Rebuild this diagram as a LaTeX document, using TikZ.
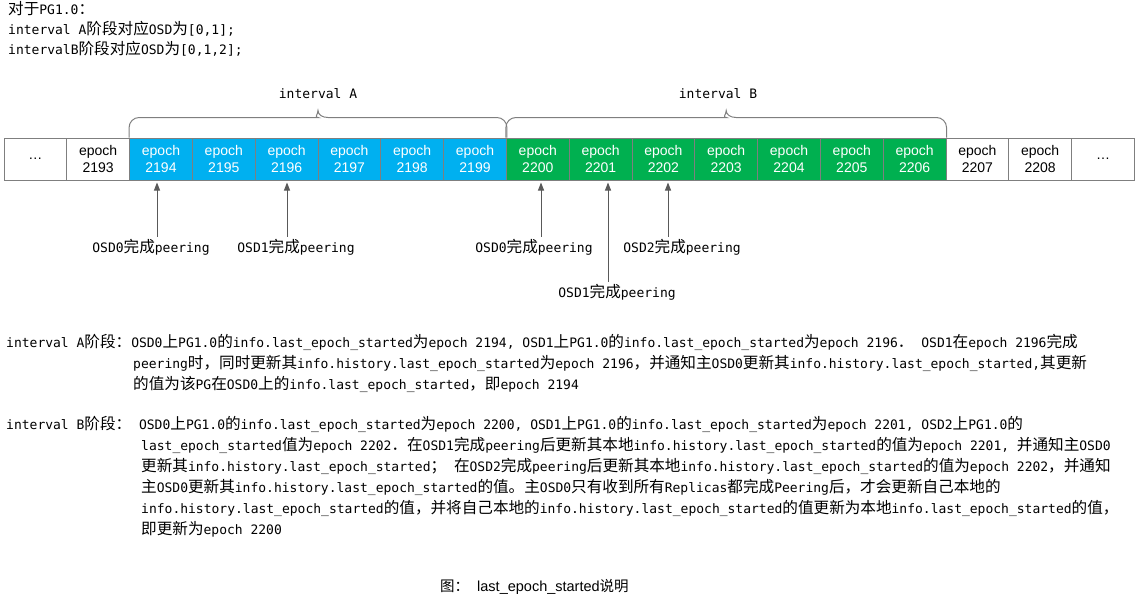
\documentclass[tikz,border=0pt]{standalone}
\usepackage{fontspec}
\setmainfont{Liberation Sans}
\setmonofont{DejaVu Sans Mono}
\newfontfamily\zhfont[Scale=1.2]{Noto Sans CJK SC}
\newfontfamily\zhcapfont{Noto Sans CJK SC}
\newcommand\zh[1]{{\zhfont #1}}
\usetikzlibrary{arrows.meta,calc}
\definecolor{ivAblue}{HTML}{00B0F0}
\definecolor{ivBgreen}{HTML}{00B050}
\definecolor{rulegray}{HTML}{7F7F7F}
\definecolor{ptrgray}{HTML}{595959}
\tikzset{
  cell/.style={draw=rulegray,line width=1pt,minimum width=62.8pt,minimum height=42pt,
    inner sep=0pt,align=center,font=\fontsize{14}{17}\selectfont},
  ivA/.style={fill=ivAblue,text=white},
  ivB/.style={fill=ivBgreen,text=white},
  bracket/.style={draw=rulegray,line width=1pt},
  mono/.style={inner sep=0pt,anchor=base west,font=\ttfamily\fontsize{13}{21}\selectfont},
  osd/.style={mono,anchor=base,inner sep=2pt},
  ptr/.style={ptrgray,line width=1pt,-{Triangle[width=6pt,length=8pt]},shorten >=2pt}
}
\newcommand\intervalbrace[2]{%
  \draw[bracket] (#1) [rounded corners=10pt] -- ++(0,-20)
    -- ($(#1)!.5!(#2)+(-10,-20)$) [sharp corners]
    .. controls +(6,0) and +(0,4) .. ($(#1)!.5!(#2)+(0,-27)$)
    .. controls +(0,4) and +(-6,0) .. ($(#1)!.5!(#2)+(10,-20)$)
    [rounded corners=10pt] -- ($(#2)+(0,-20)$) -- (#2);}

\begin{document}
\begin{tikzpicture}[x=1pt,y=-1pt]
\useasboundingbox (0,0) rectangle (1139,606);

% what the PG had
\node[mono] (h1) at (8,14) {\zh{对于}PG1.0\zh{：}};
\node[mono] (h2) at (8,34) {interval A\zh{阶段对应}OSD\zh{为}[0,1];};
\node[mono] (h3) at (8,54) {intervalB\zh{阶段对应}OSD\zh{为}[0,1,2];};

% epochs
\node[cell] (d0) at (35.4,159) {\ldots};
\foreach \e in {2193,2207,2208}
  \node[cell] (e\e) at ({35.4+62.8*(\e-2192)},159) {epoch\\\e};
\foreach \e in {2194,...,2199}
  \node[cell,ivA] (e\e) at ({35.4+62.8*(\e-2192)},159) {epoch\\\e};
\foreach \e in {2200,...,2206}
  \node[cell,ivB] (e\e) at ({35.4+62.8*(\e-2192)},159) {epoch\\\e};
\node[cell] (d1) at (1103,159) {\ldots};

% intervals
\intervalbrace{e2194.north west}{e2199.north east}
\intervalbrace{e2200.north west}{e2206.north east}
\node[mono,anchor=base] (intA) at (318,98) {interval A};
\node[mono,anchor=base] (intB) at (718,98) {interval B};

% peering
\node[osd] (o0A) at (151,252) {OSD0\zh{完成}peering};
\node[osd] (o1A) at (296,252) {OSD1\zh{完成}peering};
\node[osd] (o0B) at (534,252) {OSD0\zh{完成}peering};
\node[osd] (o2B) at (682,252) {OSD2\zh{完成}peering};
\node[osd] (o1B) at (617,297) {OSD1\zh{完成}peering};
\coordinate (p0A) at ($(o0A.north)+(6,0)$);
\coordinate (p1A) at ($(o1A.north)+(-9,0)$);
\coordinate (p0B) at ($(o0B.north)+(7,0)$);
\coordinate (p2B) at ($(o2B.north)+(-14,0)$);
\coordinate (p1B) at ($(o1B.north)+(-9,0)$);
\draw[ptr] (p0A) -- (p0A |- e2194.south);
\draw[ptr] (p1A) -- (p1A |- e2196.south);
\draw[ptr] (p0B) -- (p0B |- e2200.south);
\draw[ptr] (p1B) -- (p1B |- e2201.south);
\draw[ptr] (p2B) -- (p2B |- e2202.south);

% interval A
\node[mono] (a1) at (6,347) {interval A\zh{阶段：}OSD0\zh{上}PG1.0\zh{的}info.last\_epoch\_started\zh{为}epoch 2194, OSD1\zh{上}PG1.0\zh{的}info.last\_epoch\_started\zh{为}epoch 2196\zh{．} OSD1\zh{在}epoch 2196\zh{完成}};
\node[mono] (a2) at (133,368) {peering\zh{时，同时更新其}info.history.last\_epoch\_started\zh{为}epoch 2196\zh{，并通知主}OSD0\zh{更新其}info.history.last\_epoch\_started,\zh{其更新}};
\node[mono] (a3) at (133,389) {\zh{的值为该}PG\zh{在}OSD0\zh{上的}info.last\_epoch\_started\zh{，即}epoch 2194};

% interval B
\node[mono] (b1) at (6,429) {interval B\zh{阶段：} OSD0\zh{上}PG1.0\zh{的}info.last\_epoch\_started\zh{为}epoch 2200, OSD1\zh{上}PG1.0\zh{的}info.last\_epoch\_started\zh{为}epoch 2201, OSD2\zh{上}PG1.0\zh{的}};
\node[mono] (b2) at (141,450) {last\_epoch\_started\zh{值为}epoch 2202\zh{．在}OSD1\zh{完成}peering\zh{后更新其本地}info.history.last\_epoch\_started\zh{的值为}epoch 2201, \zh{并通知主}OSD0};
\node[mono] (b3) at (141,471) {\zh{更新其}info.history.last\_epoch\_started\zh{；} \zh{在}OSD2\zh{完成}peering\zh{后更新其本地}info.history.last\_epoch\_started\zh{的值为}epoch 2202\zh{，并通知}};
\node[mono] (b4) at (141,492) {\zh{主}OSD0\zh{更新其}info.history.last\_epoch\_started\zh{的值。主}OSD0\zh{只有收到所有}Replicas\zh{都完成}Peering\zh{后，才会更新自己本地的}};
\node[mono] (b5) at (141,513) {info.history.last\_epoch\_started\zh{的值，并将自己本地的}info.history.last\_epoch\_started\zh{的值更新为本地}info.last\_epoch\_started\zh{的值，}};
\node[mono] (b6) at (141,534) {\zh{即更新为}epoch 2200};

% caption
\node[inner sep=0pt,anchor=base west,font=\fontsize{14.5}{17}\selectfont] (cap) at (440,591)
  {{\zhcapfont 图：}\hspace{8pt}last\_epoch\_started{\zhcapfont 说明}};
\end{tikzpicture}
\end{document}
